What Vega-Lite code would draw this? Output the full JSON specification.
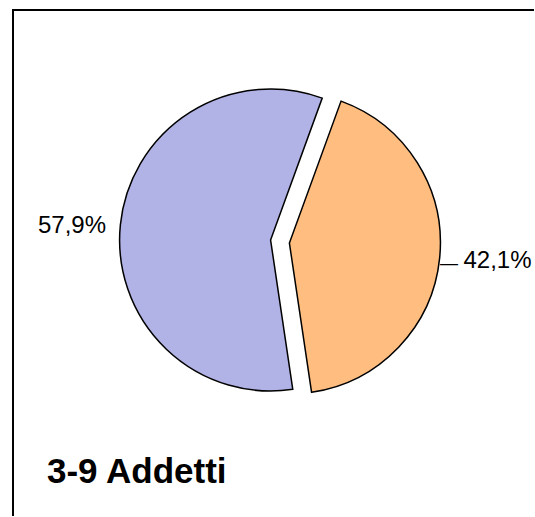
{
  "$schema": "https://vega.github.io/schema/vega-lite/v6.json",
  "width": 535,
  "height": 517,
  "autosize": {"type": "fit", "contains": "padding"},
  "padding": {"left": 11, "top": 8, "right": 0, "bottom": 0},
  "background": "white",
  "config": {
    "view": {"stroke": "transparent", "strokeWidth": 0},
    "font": "Liberation Sans"
  },
  "title": {
    "text": "3-9 Addetti",
    "orient": "bottom",
    "anchor": "start",
    "frame": "group",
    "baseline": "alphabetic",
    "offset": -34,
    "dx": 34,
    "fontSize": 35,
    "fontWeight": "bold",
    "font": "Liberation Sans",
    "color": "black"
  },
  "data": {
    "values": [
      {"categoria": "Quota A", "valore": 57.9, "etichetta": "57,9%"},
      {"categoria": "Quota B", "valore": 42.1, "etichetta": "42,1%"}
    ]
  },
  "layer": [
    {
      "data": {"values": [{"cornice": "bordo"}]},
      "mark": {"type": "rule", "stroke": "black", "strokeWidth": 2},
      "encoding": {
        "x": {"value": -1},
        "y": {"value": 0},
        "x2": {"value": {"expr": "width"}}
      }
    },
    {
      "data": {"values": [{"cornice": "bordo"}]},
      "mark": {"type": "rule", "stroke": "black", "strokeWidth": 2},
      "encoding": {
        "x": {"value": 0},
        "y": {"value": -1},
        "y2": {"value": {"expr": "height"}}
      }
    },
    {
      "mark": {"type": "arc", "outerRadius": 151, "stroke": "black", "strokeWidth": 1.5, "xOffset": -2.9, "yOffset": -23},
      "encoding": {
        "theta": {"field": "valore", "type": "quantitative", "stack": true, "scale": {"range": [0.349, 6.632]}},
        "order": {"field": "valore", "sort": "ascending"},
        "color": {"field": "categoria", "type": "nominal", "scale": {"domain": ["Quota A", "Quota B"], "range": ["#b1b2e5", "#ffbd80"]}, "legend": null},
        "opacity": {"condition": {"test": "datum.categoria === 'Quota B'", "value": 0}, "value": 1}
      }
    },
    {
      "mark": {"type": "arc", "outerRadius": 151, "stroke": "black", "strokeWidth": 1.5, "xOffset": 15.9, "yOffset": -20},
      "encoding": {
        "theta": {"field": "valore", "type": "quantitative", "stack": true},
        "order": {"field": "valore", "sort": "ascending"},
        "color": {"field": "categoria", "type": "nominal", "legend": null},
        "opacity": {"condition": {"test": "datum.categoria === 'Quota B'", "value": 1}, "value": 0}
      }
    },
    {
      "mark": {"type": "text", "radius": 199.6, "fontSize": 24, "font": "Liberation Sans", "color": "black", "xOffset": -2.9, "yOffset": -23, "dy": 6},
      "encoding": {
        "theta": {"field": "valore", "type": "quantitative", "stack": true},
        "order": {"field": "valore", "sort": "ascending"},
        "text": {"field": "etichetta"},
        "opacity": {"condition": {"test": "datum.categoria === 'Quota B'", "value": 0}, "value": 1}
      }
    },
    {
      "mark": {"type": "text", "radius": 209.2, "fontSize": 24, "font": "Liberation Sans", "color": "black", "xOffset": 15.9, "yOffset": -20, "dy": -3},
      "encoding": {
        "theta": {"field": "valore", "type": "quantitative", "stack": true},
        "order": {"field": "valore", "sort": "ascending"},
        "text": {"field": "etichetta"},
        "opacity": {"condition": {"test": "datum.categoria === 'Quota B'", "value": 1}, "value": 0}
      }
    },
    {
      "mark": {"type": "text", "radius": 160.4, "fontSize": 20, "font": "DejaVu Sans", "fontWeight": "normal", "color": "black", "xOffset": 15.9, "yOffset": -20, "dy": 5, "text": "—"},
      "encoding": {
        "theta": {"field": "valore", "type": "quantitative", "stack": true},
        "order": {"field": "valore", "sort": "ascending"},
        "opacity": {"condition": {"test": "datum.categoria === 'Quota B'", "value": 1}, "value": 0}
      }
    }
  ]
}
